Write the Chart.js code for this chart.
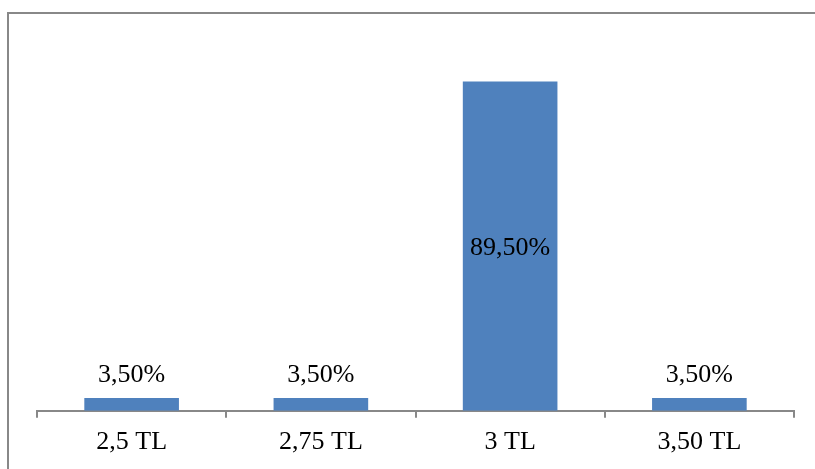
<!DOCTYPE html>
<html>
<head>
<meta charset="utf-8">
<script src="https://cdn.jsdelivr.net/npm/chart.js@4"></script>
<style>
  html, body { margin:0; padding:0; background:#fff; }
  #wrap { position:relative; width:815px; height:469px; overflow:hidden; }
  #frame { position:absolute; left:7px; top:12px; width:900px; height:600px; border-top:2px solid #888; border-left:2px solid #888; box-sizing:border-box; }
  canvas { position:absolute; left:0; top:0; }
</style>
</head>
<body>
<div id="wrap">
  <div id="frame"></div>
  <canvas id="c" width="815" height="469"></canvas>
</div>
<script>
const categories = ["2,5 TL", "2,75 TL", "3 TL", "3,50 TL"];
const values = [3.5, 3.5, 89.5, 3.5];
const valueLabels = ["3,50%", "3,50%", "89,50%", "3,50%"];

const labelPlugin = {
  id: 'valLabels',
  afterDatasetsDraw(chart) {
    const ctx = chart.ctx;
    const meta = chart.getDatasetMeta(0);
    ctx.save();
    ctx.font = '26px "Liberation Serif", "Times New Roman", serif';
    ctx.fillStyle = '#000';
    ctx.textAlign = 'center';
    ctx.textBaseline = 'middle';
    meta.data.forEach((bar, i) => {
      const base = bar.base;
      const h = base - bar.y;
      let y;
      if (h > 60) y = bar.y + h / 2 + 2;
      else y = bar.y - 23;
      ctx.fillText(valueLabels[i], bar.x, y);
    });
    ctx.restore();
  }
};

new Chart(document.getElementById('c'), {
  type: 'bar',
  data: {
    labels: categories,
    datasets: [{
      data: values,
      backgroundColor: '#4F81BD',
      borderWidth: 0,
      barPercentage: 1,
      categoryPercentage: 0.5
    }]
  },
  options: {
    responsive: false,
    animation: false,
    devicePixelRatio: 1,
    layout: { padding: { left: 37, right: 21, top: 43, bottom: 2 } },
    plugins: { legend: { display: false }, tooltip: { enabled: false } },
    scales: {
      x: {
        offset: true,
        border: { display: true, color: '#888', width: 2 },
        grid: { display: true, drawOnChartArea: false, drawTicks: true, tickLength: 7, offset: true, color: '#888', lineWidth: 2 },
        ticks: { color: '#000', font: { family: '"Liberation Serif", "Times New Roman", serif', size: 26 }, padding: 9, maxRotation: 0 }
      },
      y: { display: false, min: 0, max: 100 }
    }
  },
  plugins: [labelPlugin]
});
</script>
</body>
</html>
